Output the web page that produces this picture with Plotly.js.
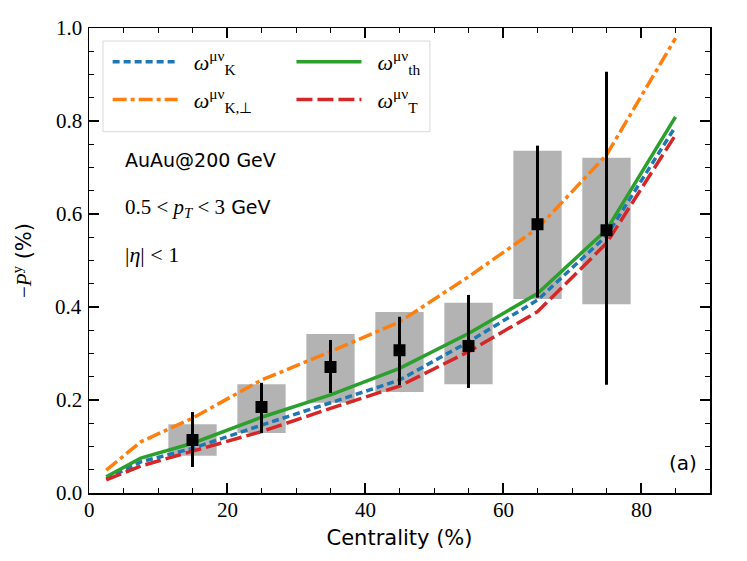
<!DOCTYPE html>
<html><head><meta charset="utf-8">
<script src="https://cdn.plot.ly/plotly-3.0.1.min.js"></script>
<style>body{margin:0;background:#fff}</style>
</head><body>
<div id="plot" style="width:747px;height:561px"></div>
<script>
// Theory curves
const xTheory = [2.5, 7.5, 15, 25, 35, 45, 55, 65, 75, 85];
const yK      = [0.030, 0.067, 0.096, 0.146, 0.194, 0.243, 0.325, 0.415, 0.553, 0.788];
const yKperp  = [0.049, 0.110, 0.161, 0.243, 0.304, 0.368, 0.465, 0.569, 0.727, 0.978];
const yTh     = [0.035, 0.075, 0.107, 0.163, 0.211, 0.268, 0.343, 0.429, 0.566, 0.809];
const yT      = [0.028, 0.058, 0.090, 0.132, 0.182, 0.230, 0.304, 0.390, 0.537, 0.770];
// Data
const xData   = [15, 25, 35, 45, 55, 65, 75];
const yData   = [0.114, 0.185, 0.271, 0.307, 0.316, 0.578, 0.565];
const statLo  = [0.056, 0.129, 0.215, 0.232, 0.226, 0.420, 0.233];
const statHi  = [0.174, 0.237, 0.329, 0.379, 0.426, 0.747, 0.906];
const sysLo   = [0.080, 0.129, 0.194, 0.217, 0.234, 0.417, 0.406];
const sysHi   = [0.148, 0.234, 0.342, 0.389, 0.409, 0.736, 0.721];
const sysWidth = 7;
// Tick labels
const xTickVals = [0, 20, 40, 60, 80];
const xTickText = ['0', '20', '40', '60', '80'];
const yTickVals = [0, 0.2, 0.4, 0.6, 0.8, 1.0];
const yTickText = ['0.0', '0.2', '0.4', '0.6', '0.8', '1.0'];

const serif = 'Liberation Serif';
const sans = 'DejaVu Sans';

const traces = [
  {type:'bar', x:xData, base:sysLo, y:sysHi.map((h,i)=>h-sysLo[i]), width:sysWidth,
   marker:{color:'#b3b3b3', line:{width:0}}, showlegend:false, hoverinfo:'skip'},
  {type:'scatter', mode:'lines', x:xTheory, y:yK, name:'  <i>ω</i><sup>μν</sup><sub>K</sub>',
   line:{color:'#1f77b4', width:3.5, dash:'7px,4px'}, legend:'legend', legendgroup:'a'},
  {type:'scatter', mode:'lines', x:xTheory, y:yKperp, name:'  <i>ω</i><sup>μν</sup><sub>K,⊥</sub>',
   line:{color:'#ff7f0e', width:3.5, dash:'14px,4px,4px,4px'}, legend:'legend', legendgroup:'b'},
  {type:'scatter', mode:'lines', x:xTheory, y:yTh, name:'  <i>ω</i><sup>μν</sup><sub>th</sub>',
   line:{color:'#2ca02c', width:3.5}, legend:'legend2', legendgroup:'c'},
  {type:'scatter', mode:'lines', x:xTheory, y:yT, name:'  <i>ω</i><sup>μν</sup><sub>T</sub>',
   line:{color:'#d62728', width:3.5, dash:'16px,5px'}, legend:'legend2', legendgroup:'d'},
  {type:'scatter', mode:'markers', x:xData, y:yData, showlegend:false,
   marker:{symbol:'square', size:12, color:'#000'},
   error_y:{type:'data', symmetric:false,
     array:statHi.map((h,i)=>h-yData[i]), arrayminus:yData.map((v,i)=>v-statLo[i]),
     color:'#000', thickness:3, width:0}}
];

const tickFont = {family:serif, size:21, color:'#000'};
const tickAnnotations = [].concat(
  xTickVals.map((v, i) => ({xref:'x', yref:'paper', x:v, y:0, xanchor:'center', yanchor:'top',
    yshift:-3, showarrow:false, text:xTickText[i], font:tickFont})),
  yTickVals.map((v, i) => ({xref:'paper', yref:'y', x:0, y:v, xanchor:'right', yanchor:'middle',
    xshift:-5, showarrow:false, text:yTickText[i], font:tickFont}))
);

const layout = {
  width:747, height:561,
  font:{family:serif, size:21, color:'#000'},
  margin:{l:89, r:37, t:28, b:68},
  paper_bgcolor:'#fff', plot_bgcolor:'#fff',
  barmode:'overlay',
  xaxis:{
    showline:true, linecolor:'#000', linewidth:1.5, mirror:'allticks',
    ticks:'inside', ticklen:10, tickwidth:1.2, tickcolor:'#000',
    showgrid:false, zeroline:false, showticklabels:false,
    tickmode:'array', tickvals:xTickVals,
    range:[0, 90],
    minor:{dtick:5, tick0:0, ticks:'inside', ticklen:5, tickcolor:'#000', tickwidth:1},
    title:{text:'Centrality (%)', font:{family:sans, size:21, color:'#000'}, standoff:37}
  },
  yaxis:{
    showline:true, linecolor:'#000', linewidth:1.5, mirror:'allticks',
    ticks:'inside', ticklen:10, tickwidth:1.2, tickcolor:'#000',
    showgrid:false, zeroline:false, showticklabels:false,
    tickmode:'array', tickvals:yTickVals,
    range:[0, 1.0],
    minor:{dtick:0.05, tick0:0, ticks:'inside', ticklen:5, tickcolor:'#000', tickwidth:1},
    title:{text:'<span style="font-family:Liberation Serif">−<i>P</i><sup>y</sup></span> (%)', font:{family:sans, size:21, color:'#000'}, standoff:50}
  },
  legend:{x:0.03, y:0.972, xanchor:'left', yanchor:'top', bgcolor:'rgba(0,0,0,0)',
    borderwidth:0, font:{family:serif, size:22, color:'#000'}, itemwidth:65, tracegroupgap:6},
  legend2:{x:0.326, y:0.972, xanchor:'left', yanchor:'top', bgcolor:'rgba(0,0,0,0)',
    borderwidth:0, font:{family:serif, size:22, color:'#000'}, itemwidth:65, tracegroupgap:6},
  shapes:[{type:'rect', xref:'paper', yref:'paper', x0:0.0225, x1:0.549, y0:0.777, y1:0.972,
    line:{color:'#d9d9d9', width:1}, fillcolor:'rgba(255,255,255,0.8)', layer:'below'}],
  annotations:[
    {xref:'paper', yref:'paper', x:0.054, y:0.717, xanchor:'left', yanchor:'middle', showarrow:false,
     text:'AuAu@200 GeV', font:{family:sans, size:19, color:'#000'}},
    {xref:'paper', yref:'paper', x:0.054, y:0.612, xanchor:'left', yanchor:'middle', showarrow:false,
     text:'<span style="font-family:Liberation Serif;font-size:21px">0.5 < <i>p</i><sub><i>T</i></sub> < 3</span> GeV', font:{family:sans, size:19, color:'#000'}},
    {xref:'paper', yref:'paper', x:0.054, y:0.512, xanchor:'left', yanchor:'middle', showarrow:false,
     text:'|<i>η</i>| < 1', font:{family:serif, size:22, color:'#000'}},
    {xref:'paper', yref:'paper', x:0.983, y:0.065, xanchor:'right', yanchor:'middle', showarrow:false,
     text:'(a)', font:{family:sans, size:20, color:'#000'}}
  ].concat(tickAnnotations)
};

Plotly.newPlot('plot', traces, layout, {displayModeBar:false, staticPlot:true});
</script>
</body></html>
